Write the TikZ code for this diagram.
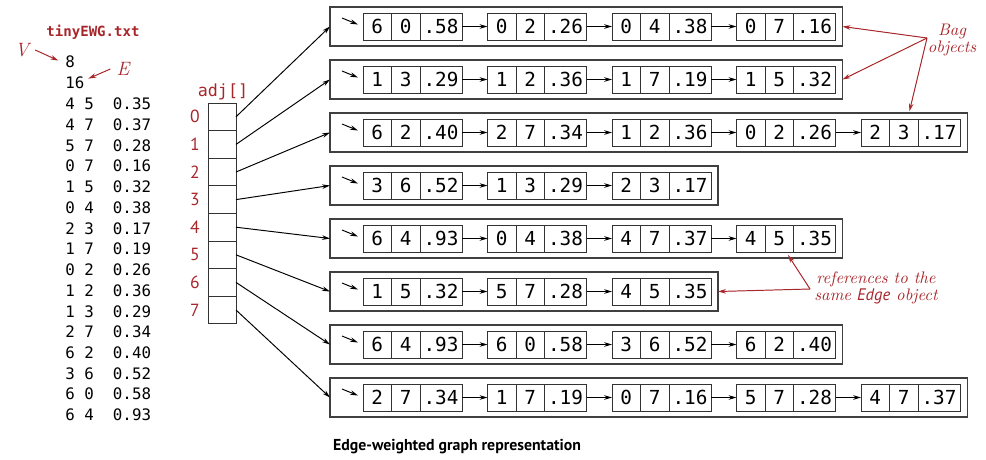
\documentclass[tikz,border=0pt]{standalone}
\usepackage{fontspec}
\setsansfont{PT Sans}
\setmonofont{DejaVu Sans Mono}
\usetikzlibrary{arrows.meta,positioning,calc}

\definecolor{bookred}{RGB}{168,38,42}

\tikzset{
    ptr/.style={-{Stealth[length=4.5pt,width=2.6pt]}, line width=0.55pt},
    redptr/.style={ptr, draw=bookred, fill=bookred},
    cell/.style={draw=black!80, line width=0.5pt, inner sep=0pt, outer sep=0pt,
        minimum height=5.4mm, font=\ttfamily\fontsize{11}{13}\selectfont},
    vcell/.style={cell, minimum width=5.7mm},
    wtcell/.style={cell, minimum width=8.4mm},
    bagbox/.style={draw=black!75, line width=0.6pt, minimum height=7.8mm, inner sep=0pt, outer sep=0pt},
    adjcell/.style={draw=black!80, line width=0.5pt, minimum width=5.6mm, minimum height=5.52mm, inner sep=0pt, outer sep=0pt},
    idx/.style={text=bookred, font=\sffamily\fontsize{10}{12}\selectfont},
    filetxt/.style={anchor=west, inner sep=2pt, font=\ttfamily\fontsize{9}{11}\selectfont},
    note/.style={text=bookred, align=center, inner sep=0pt, font=\itshape\fontsize{9.5}{10}\selectfont},
}

\begin{document}
\begin{tikzpicture}[x=0.2mm, y=-0.2mm]
    \useasboundingbox (0,0) rectangle (986,459);

    % the input file
    \node[text=bookred, font=\ttfamily\bfseries\fontsize{8}{10}\selectfont] (title) at (93,32) {tinyEWG.txt};
    \node[filetxt] (nv) at (61.5,62) {8};
    \node[filetxt] (ne) at (61.5,83) {16};
    \foreach \ev/\ew/\wt [count=\i] in {4/5/0.35, 4/7/0.37, 5/7/0.28, 0/7/0.16,
        1/5/0.32, 0/4/0.38, 2/3/0.17, 1/7/0.19, 0/2/0.26, 1/2/0.36, 1/3/0.29,
        2/7/0.34, 6/2/0.40, 3/6/0.52, 6/0/0.58, 6/4/0.93}
        \node[filetxt] (line-\i) at (61.5,{104+20.73*(\i-1)}) {\ev\ \ew\ \ \wt};

    \node[font=\itshape\fontsize{11}{13}\selectfont, text=bookred] (vlabel) at (22,50) {V};
    \node[font=\itshape\fontsize{11}{13}\selectfont, text=bookred] (elabel) at (123,69) {E};
    \draw[redptr, shorten >=2pt] (vlabel.east) -- (nv.west);
    \draw[redptr] (elabel.west) -- ([yshift=2.5pt]ne.east);

    % adj[] array
    \node[text=bookred, font=\ttfamily\fontsize{9.5}{11}\selectfont] (adjlabel) at (223,92) {adj[]};
    \foreach \k in {0,...,7} {
        \node[adjcell] (adj-\k) at (222,{103+27.6*(\k+0.5)}) {};
        \node[idx] (idx-\k) at (195,{103+27.6*(\k+0.5)}) {\k};
    }

    % one bag of edges per vertex
    \foreach \row/\cnt/\edges in {
        0/4/{6/0/.58, 0/2/.26, 0/4/.38, 0/7/.16},
        1/4/{1/3/.29, 1/2/.36, 1/7/.19, 1/5/.32},
        2/5/{6/2/.40, 2/7/.34, 1/2/.36, 0/2/.26, 2/3/.17},
        3/3/{3/6/.52, 1/3/.29, 2/3/.17},
        4/4/{6/4/.93, 0/4/.38, 4/7/.37, 4/5/.35},
        5/3/{1/5/.32, 5/7/.28, 4/5/.35},
        6/4/{6/4/.93, 6/0/.58, 3/6/.52, 6/2/.40},
        7/5/{2/7/.34, 1/7/.19, 0/7/.16, 5/7/.28, 4/7/.37}} {
        \pgfmathsetmacro\rowy{26.5+53*\row}
        \pgfmathsetmacro\bagw{27.8+(\cnt-1)*24.9}
        \node[bagbox, minimum width=\bagw mm, anchor=west] (bag-\row) at (330,\rowy) {};
        \coordinate (stub-\row) at (342,\rowy-8.5);
        \draw[ptr] (stub-\row) -- ++(16,6.5);
        \foreach \ev/\ew/\wt [count=\i, remember=\i as \j (initially 0)] in \edges {
            \node[vcell, anchor=west] (v-\row-\i) at ({363+(\i-1)*124.5},\rowy) {\ev};
            \node[vcell, right=0pt of v-\row-\i] (w-\row-\i) {\ew};
            \node[wtcell, right=0pt of w-\row-\i] (wt-\row-\i) {\wt};
            \ifnum\j>0 \draw[ptr] (wt-\row-\j) -- (v-\row-\i); \fi
        }
        \draw[ptr] (adj-\row.east) -- (bag-\row.west);
    }

    % notes
    \node[note] (bagnote) at (952,40) {Bag\\objects};
    \coordinate (bagsrc) at (927,38);
    \draw[redptr] (bagsrc) -- (bag-0.east);
    \draw[redptr] (bagsrc) -- (bag-1.east);
    \draw[redptr, shorten >=1pt] (bagsrc) -- ($(bag-2.north east)+(-58,0)$);

    \node[note] (refnote) at (876,288) {references to the\\same {\sffamily Edge} object};
    \coordinate (refsrc) at (810,289);
    \draw[redptr] (refsrc) -- ($(w-4-4.south east)+(-5.5,3)$);
    \draw[redptr] (refsrc) -- (bag-5.east);

    \node[font=\sffamily\bfseries\fontsize{9}{11}\selectfont] (caption) at (457,447) {Edge-weighted graph representation};
\end{tikzpicture}
\end{document}
